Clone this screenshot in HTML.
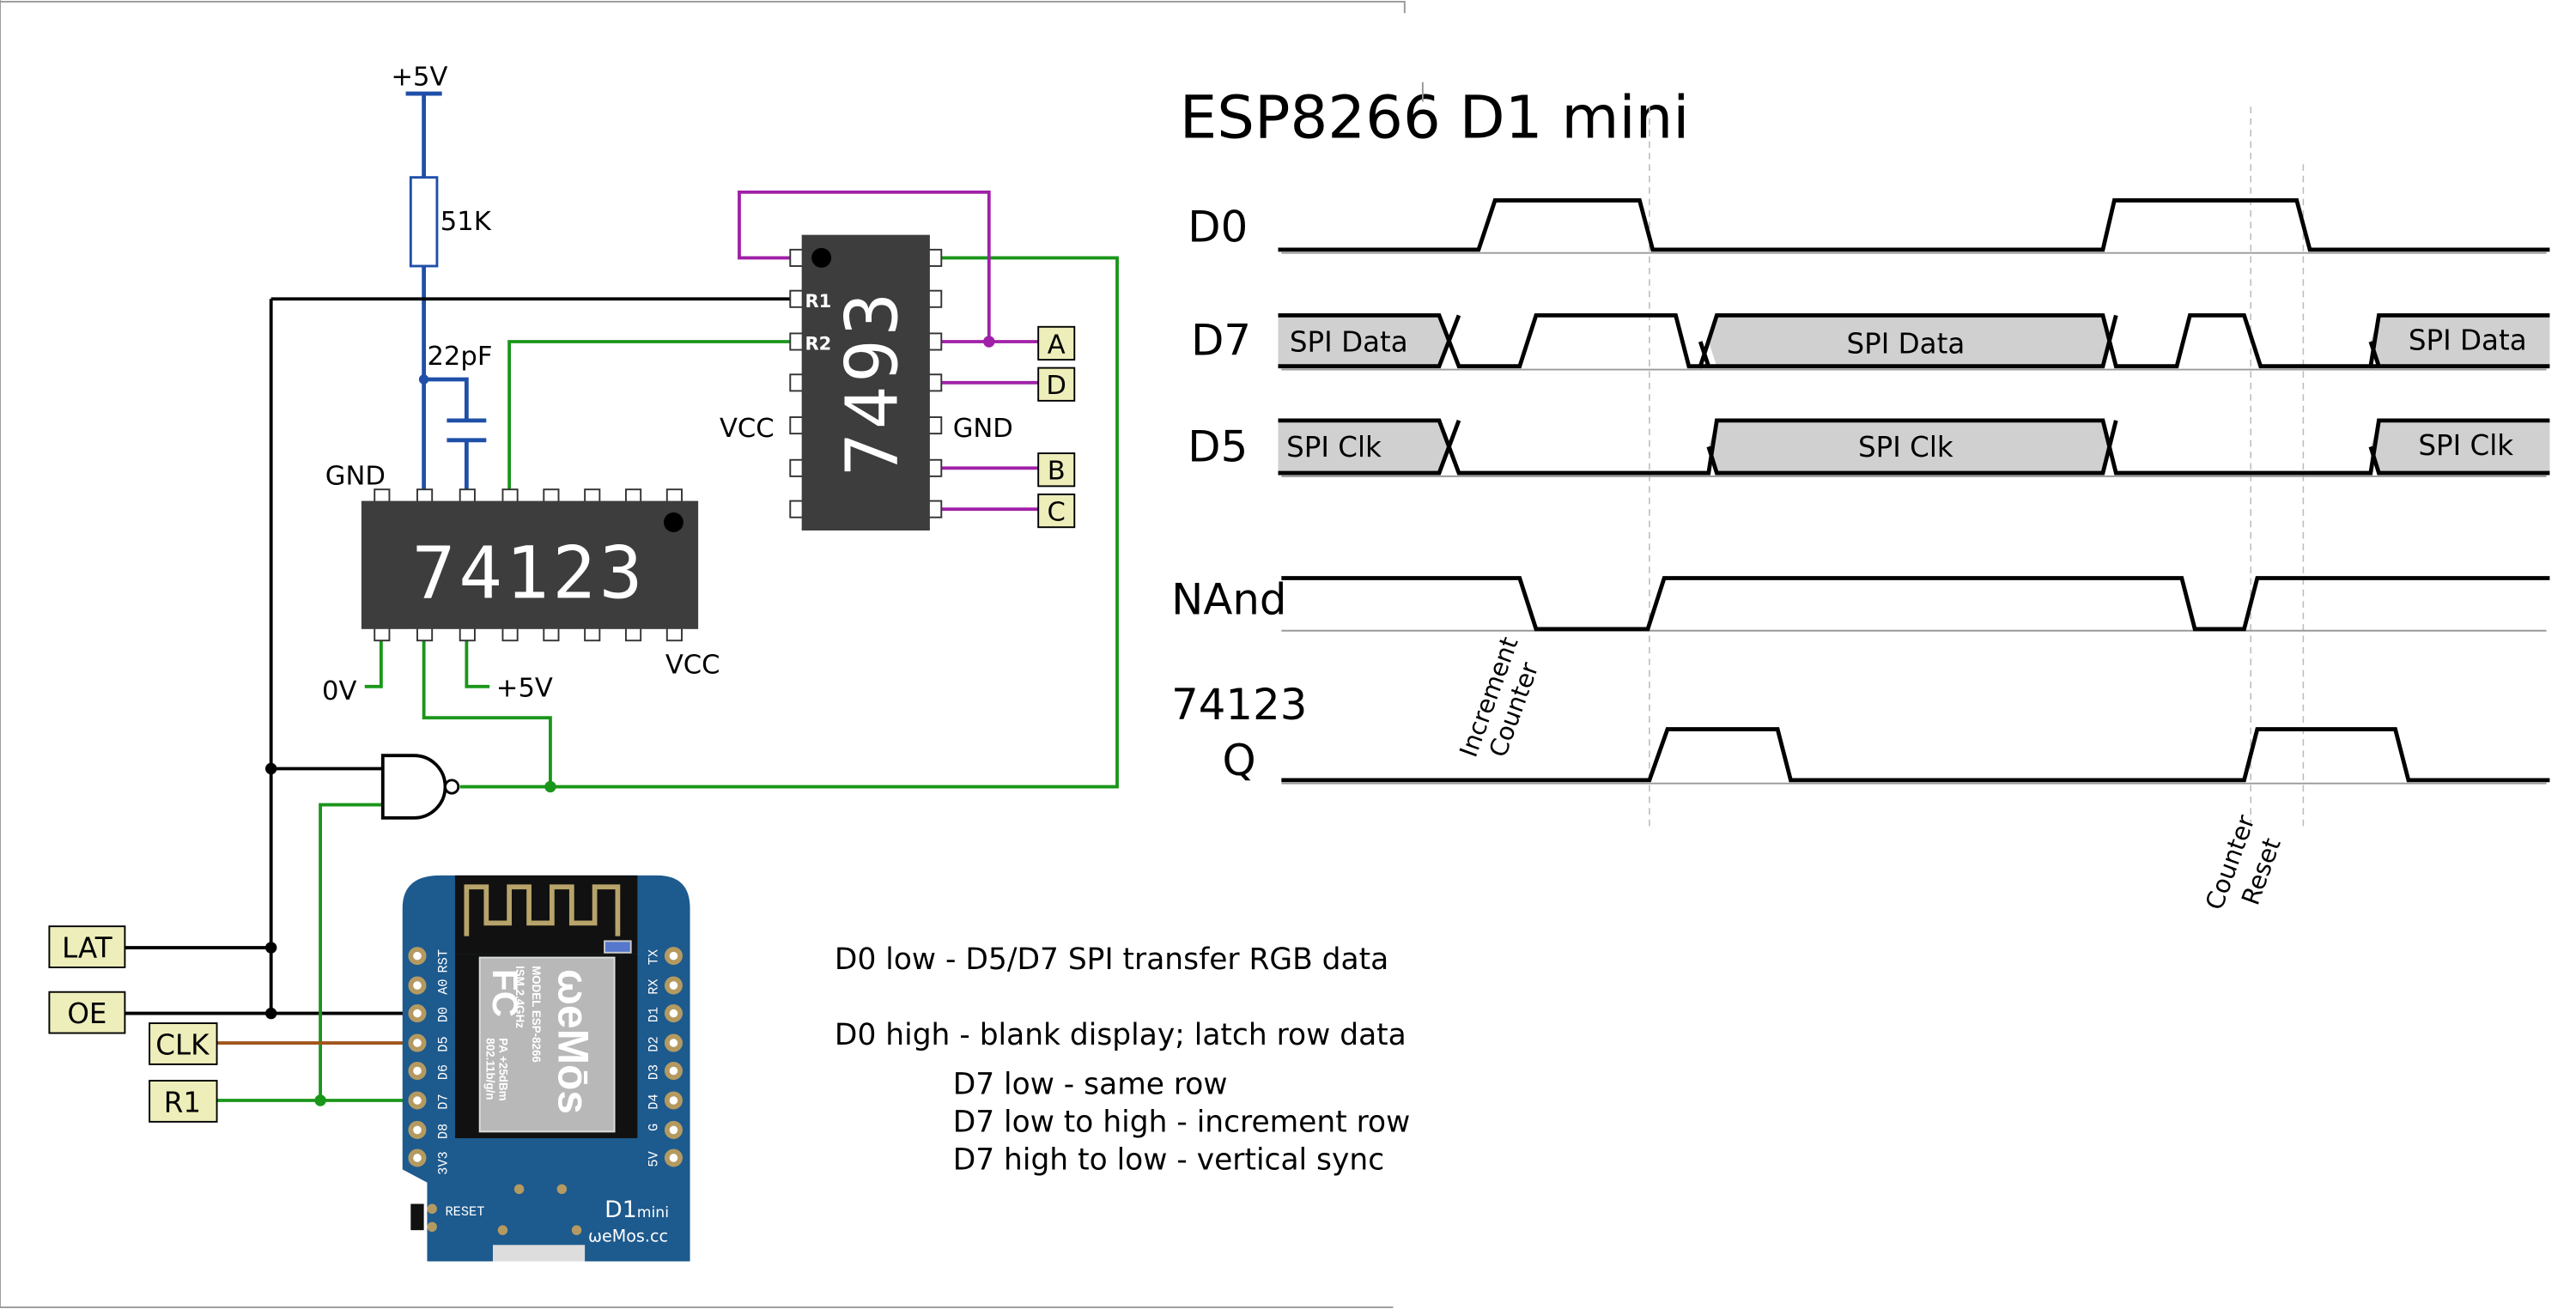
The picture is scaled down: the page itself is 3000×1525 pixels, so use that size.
<!DOCTYPE html>
<html><head><meta charset="utf-8"><style>
html,body{margin:0;padding:0;background:#fff;}
svg{display:block;font-family:"DejaVu Sans","Liberation Sans",sans-serif;}
</style></head><body>
<svg width="3000" height="1525" viewBox="0 0 1568 797" preserveAspectRatio="none" xmlns="http://www.w3.org/2000/svg">
<rect width="1568" height="797" fill="#fff"/>
<path d="M0 1H855V8M0 0V796H848" stroke="#999" stroke-width="1" fill="none"/>

<text x="238" y="52" font-size="16">+5V</text>
<path d="M247 57H269M258 57V108M258 162V300M258 231H284V256M284 268V300M272 256H296M272 268H296" stroke="#1f4fa8" stroke-width="2.5" fill="none"/>
<rect x="250" y="108" width="16" height="54" fill="#fff" stroke="#1f4fa8" stroke-width="1.5"/>
<circle cx="258" cy="231" r="3" fill="#1f4fa8"/>
<text x="268" y="140" font-size="16">51K</text>
<text x="260" y="222" font-size="16">22pF</text>
<text x="198" y="295" font-size="16">GND</text>

<path d="M165 182H482M165 182V617M165 468H235M30 577H165M76 617H255" stroke="#000" stroke-width="2" fill="none"/>
<circle cx="165" cy="468" r="3.5"/><circle cx="165" cy="577" r="3.5"/><circle cx="165" cy="617" r="3.5"/>
<path d="M310 298V208H482M572 157H680V479H280M258 390V437H335V479M195 670V490H235M132 670H255M232 390V418H222M284 390V418H298" stroke="#1a961a" stroke-width="2" fill="none"/>
<circle cx="335" cy="479" r="3.5" fill="#1a961a"/><circle cx="195" cy="670" r="3.5" fill="#1a961a"/>
<path d="M132 635H255" stroke="#a0551a" stroke-width="2"/>
<path d="M482 157H450V117H602V208M572 208H632M572 233H632M572 285H632M572 310H632" stroke="#a020a8" stroke-width="2" fill="none"/>
<circle cx="602" cy="208" r="3.5" fill="#a020a8"/>

<g fill="#fff" stroke="#333" stroke-width="1">
<rect x="228" y="298" width="9" height="8"/><rect x="254" y="298" width="9" height="8"/><rect x="280" y="298" width="9" height="8"/><rect x="306" y="298" width="9" height="8"/><rect x="331" y="298" width="9" height="8"/><rect x="356" y="298" width="9" height="8"/><rect x="381" y="298" width="9" height="8"/><rect x="406" y="298" width="9" height="8"/>
<rect x="228" y="382" width="9" height="8"/><rect x="254" y="382" width="9" height="8"/><rect x="280" y="382" width="9" height="8"/><rect x="306" y="382" width="9" height="8"/><rect x="331" y="382" width="9" height="8"/><rect x="356" y="382" width="9" height="8"/><rect x="381" y="382" width="9" height="8"/><rect x="406" y="382" width="9" height="8"/>
</g>
<rect x="220" y="305" width="205" height="78" fill="#3d3d3d"/>
<circle cx="410" cy="318" r="6" fill="#000"/>
<text x="322" y="364" font-size="44" fill="#fff" text-anchor="middle" letter-spacing="2" font-family="DejaVu Sans Mono,monospace">74123</text>
<text x="196" y="426" font-size="16">0V</text>
<text x="302" y="424" font-size="16">+5V</text>
<text x="405" y="410" font-size="16">VCC</text>

<g fill="#fff" stroke="#333" stroke-width="1">
<rect x="481" y="152" width="8" height="10"/><rect x="481" y="177" width="8" height="10"/><rect x="481" y="203" width="8" height="10"/><rect x="481" y="228" width="8" height="10"/><rect x="481" y="254" width="8" height="10"/><rect x="481" y="280" width="8" height="10"/><rect x="481" y="305" width="8" height="10"/>
<rect x="565" y="152" width="8" height="10"/><rect x="565" y="177" width="8" height="10"/><rect x="565" y="203" width="8" height="10"/><rect x="565" y="228" width="8" height="10"/><rect x="565" y="254" width="8" height="10"/><rect x="565" y="280" width="8" height="10"/><rect x="565" y="305" width="8" height="10"/>
</g>
<rect x="488" y="143" width="78" height="180" fill="#3d3d3d"/>
<circle cx="500" cy="157" r="6" fill="#000"/>
<text x="490" y="187" font-size="11" fill="#fff" font-weight="bold">R1</text>
<text x="490" y="213" font-size="11" fill="#fff" font-weight="bold">R2</text>
<text transform="translate(546,233) rotate(-90)" font-size="44" fill="#fff" text-anchor="middle" letter-spacing="2" font-family="DejaVu Sans Mono,monospace">7493</text>
<text x="438" y="266" font-size="16">VCC</text>
<text x="580" y="266" font-size="16">GND</text>
<g font-size="16" text-anchor="middle">
<rect x="632" y="199" width="22" height="20" fill="#eeeebb" stroke="#000"/><text x="643" y="215">A</text>
<rect x="632" y="224" width="22" height="20" fill="#eeeebb" stroke="#000"/><text x="643" y="240">D</text>
<rect x="632" y="276" width="22" height="20" fill="#eeeebb" stroke="#000"/><text x="643" y="292">B</text>
<rect x="632" y="301" width="22" height="20" fill="#eeeebb" stroke="#000"/><text x="643" y="317">C</text>
</g>

<path d="M233 460H252A19 19 0 0 1 252 498H233Z" fill="#fff" stroke="#000" stroke-width="2"/>
<circle cx="275" cy="479" r="4" fill="#fff" stroke="#000" stroke-width="1.5"/>

<g font-size="17" text-anchor="middle">
<rect x="30" y="564" width="46" height="25" fill="#eeeebb" stroke="#000"/><text x="53" y="583">LAT</text>
<rect x="30" y="604" width="46" height="25" fill="#eeeebb" stroke="#000"/><text x="53" y="623">OE</text>
<rect x="91" y="623" width="41" height="25" fill="#eeeebb" stroke="#000"/><text x="111" y="642">CLK</text>
<rect x="91" y="658" width="41" height="25" fill="#eeeebb" stroke="#000"/><text x="111" y="677">R1</text>
</g>

<path d="M268 533H400Q420 533 420 553V768H260V720L245 712V553Q245 533 268 533Z" fill="#1d5a8e"/>
<rect x="277" y="533" width="111" height="48" fill="#111"/>
<path d="M284 570V540H296V562H310V540H322V562H336V540H348V562H362V540H376V570" stroke="#b8a46a" stroke-width="3" fill="none"/>
<rect x="277" y="581" width="111" height="112" fill="#111"/>
<rect x="368" y="573" width="16" height="7" fill="#5577cc" stroke="#ccc"/>
<rect x="292" y="583" width="82" height="106" fill="#b8b8b8" stroke="#ddd"/>
<g fill="#fff" font-weight="bold" font-family="Liberation Sans,sans-serif">
<text transform="translate(300,590) rotate(90)" font-size="22">FC</text>
<text transform="translate(340,590) rotate(90)" font-size="26">ωeMōs</text>
<text transform="translate(324,588) rotate(90)" font-size="7">MODEL ESP-8266</text>
<text transform="translate(314,588) rotate(90)" font-size="7">ISM 2.4GHz</text>
<text transform="translate(304,632) rotate(90)" font-size="7">PA +25dBm</text>
<text transform="translate(296,632) rotate(90)" font-size="7">802.11b/g/n</text>
</g>
<g fill="#fff" stroke="#b49a60" stroke-width="3">
<circle cx="254" cy="582" r="4"/><circle cx="254" cy="600" r="4"/><circle cx="254" cy="617" r="4"/><circle cx="254" cy="635" r="4"/><circle cx="254" cy="652" r="4"/><circle cx="254" cy="670" r="4"/><circle cx="254" cy="688" r="4"/><circle cx="254" cy="705" r="4"/>
<circle cx="410" cy="582" r="4"/><circle cx="410" cy="600" r="4"/><circle cx="410" cy="617" r="4"/><circle cx="410" cy="635" r="4"/><circle cx="410" cy="652" r="4"/><circle cx="410" cy="670" r="4"/><circle cx="410" cy="688" r="4"/><circle cx="410" cy="705" r="4"/>
</g>
<g fill="#fff" font-size="8" font-family="Liberation Mono,monospace">
<text transform="translate(272,578) rotate(-90)" text-anchor="end">RST</text>
<text transform="translate(272,596) rotate(-90)" text-anchor="end">A0</text>
<text transform="translate(272,613) rotate(-90)" text-anchor="end">D0</text>
<text transform="translate(272,631) rotate(-90)" text-anchor="end">D5</text>
<text transform="translate(272,648) rotate(-90)" text-anchor="end">D6</text>
<text transform="translate(272,666) rotate(-90)" text-anchor="end">D7</text>
<text transform="translate(272,684) rotate(-90)" text-anchor="end">D8</text>
<text transform="translate(272,701) rotate(-90)" text-anchor="end">3V3</text>
<text transform="translate(400,578) rotate(-90)" text-anchor="end">TX</text>
<text transform="translate(400,596) rotate(-90)" text-anchor="end">RX</text>
<text transform="translate(400,613) rotate(-90)" text-anchor="end">D1</text>
<text transform="translate(400,631) rotate(-90)" text-anchor="end">D2</text>
<text transform="translate(400,648) rotate(-90)" text-anchor="end">D3</text>
<text transform="translate(400,666) rotate(-90)" text-anchor="end">D4</text>
<text transform="translate(400,684) rotate(-90)" text-anchor="end">G</text>
<text transform="translate(400,701) rotate(-90)" text-anchor="end">5V</text>
<text x="271" y="740">RESET</text>
</g>
<rect x="250" y="733" width="8" height="16" fill="#111"/>
<g fill="#b49a60"><circle cx="263" cy="736" r="3"/><circle cx="263" cy="747" r="3"/><circle cx="316" cy="724" r="3"/><circle cx="342" cy="724" r="3"/><circle cx="306" cy="749" r="3"/><circle cx="351" cy="749" r="3"/></g>
<rect x="300" y="758" width="56" height="10" fill="#ddd"/>
<text x="368" y="741" font-size="14" fill="#fff">D1<tspan font-size="9">mini</tspan></text>
<text x="358" y="756" font-size="10" fill="#fff">ωeMos.cc</text>

<g font-size="18">
<text x="508" y="590">D0 low - D5/D7 SPI transfer RGB data</text>
<text x="508" y="636">D0 high - blank display; latch row data</text>
<text x="580" y="666">D7 low - same row</text>
<text x="580" y="689">D7 low to high - increment row</text>
<text x="580" y="712">D7 high to low - vertical sync</text>
</g>

<text x="718" y="84" font-size="36">ESP8266 D1 mini</text>
<path d="M866 50V62" stroke="#999"/>
<g font-size="26">
<text x="723" y="147">D0</text>
<text x="725" y="216">D7</text>
<text x="723" y="281">D5</text>
<text x="713" y="374">NAnd</text>
<text x="713" y="438">74123</text>
<text x="744" y="472">Q</text>
</g>
<g stroke="#bbb" stroke-dasharray="4,3" stroke-width="0.8">
<path d="M1004 65V505M1370 65V505M1402 100V505"/>
</g>
<g stroke="#999" stroke-width="1">
<path d="M780 154H1550M780 225H1550M780 290H1550M780 384H1550M780 477H1550"/>
</g>
<g fill="#d0d0d0">
<path d="M778 192H876L881 208L876 223H778Z"/>
<path d="M1040 208L1045 192H1280L1284 208L1280 223H1045Z"/>
<path d="M1443 208L1448 192H1552V223H1448Z"/>
<path d="M778 256H876L881 272L876 288H778Z"/>
<path d="M1040 272L1045 256H1280L1284 272L1280 288H1045Z"/>
<path d="M1443 272L1448 256H1552V288H1448Z"/>
</g>
<g stroke="#000" stroke-width="2.5" fill="none">
<path d="M778 152H900L910 122H998L1006 152H1280L1287 122H1398L1406 152H1552"/>
<path d="M778 192H876L888 223H925L935 192H1020L1028 223H1035L1045 192H1280L1288 223H1325L1333 192H1366L1376 223H1443L1448 192H1552"/>
<path d="M778 223H876L888 192M1035 223H1040L1045 223H1280L1288 192M1443 223H1448L1443 208M1448 223H1552M1040 223L1035 208"/>
<path d="M778 256H876L888 288H1040L1045 256H1280L1288 288H1443L1448 256H1552"/>
<path d="M778 288H876L888 256M1040 272L1045 288H1280L1288 256M1443 272L1448 288H1552"/>
<path d="M780 352H925L935 383H1003L1013 352H1328L1336 383H1366L1374 352H1552"/>
<path d="M780 475H1004L1015 444H1082L1090 475H1366L1374 444H1458L1466 475H1552"/>
</g>
<g font-size="17">
<text x="785" y="214">SPI Data</text>
<text x="1160" y="215" text-anchor="middle">SPI Data</text>
<text x="1466" y="213">SPI Data</text>
<text x="783" y="278">SPI Clk</text>
<text x="1160" y="278" text-anchor="middle">SPI Clk</text>
<text x="1472" y="277">SPI Clk</text>
</g>
<g font-size="15">
<text transform="translate(898,462) rotate(-70)">Increment</text>
<text transform="translate(916,462) rotate(-70)">Counter</text>
<text transform="translate(1352,555) rotate(-70)">Counter</text>
<text transform="translate(1374,552) rotate(-70)">Reset</text>
</g>
</svg>
</body></html>
